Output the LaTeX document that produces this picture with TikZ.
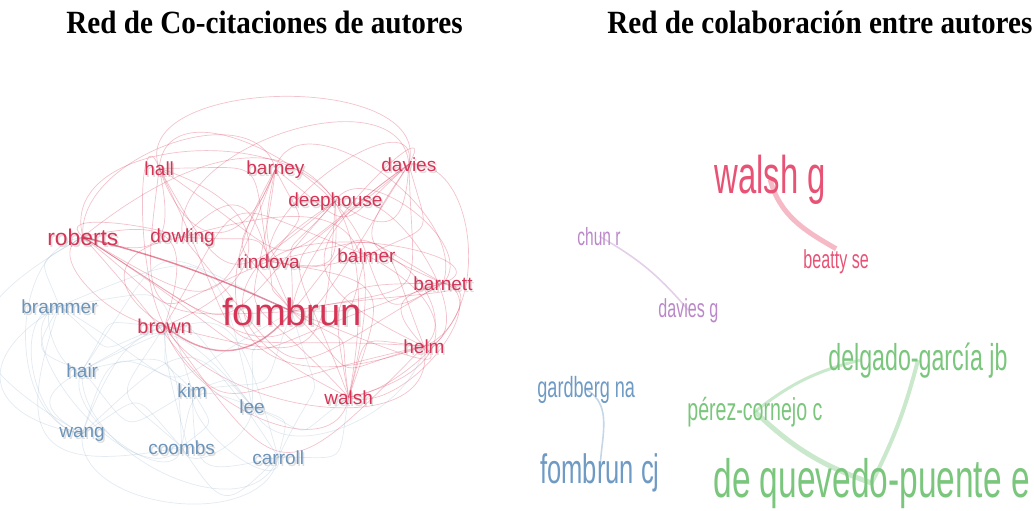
\documentclass[tikz,border=0pt]{standalone}
\usepackage{fontspec}
\setmainfont{Liberation Serif}
\setsansfont{Liberation Sans}
\newfontfamily\narrowsans[FakeStretch=0.62]{Liberation Sans}
\newfontfamily\headserif[FakeStretch=0.9]{Liberation Serif}
\usetikzlibrary{backgrounds}
\definecolor{cocitered}{RGB}{214,52,86}
\definecolor{cociteblue}{RGB}{108,148,186}
\definecolor{colabred}{RGB}{232,82,116}
\definecolor{colabpurple}{RGB}{186,136,200}
\definecolor{colabblue}{RGB}{110,154,196}
\definecolor{colabgreen}{RGB}{122,198,124}
\tikzset{headline/.style={font=\headserif\bfseries\fontsize{16.2}{19}\selectfont,inner sep=0,anchor=base west},
    cocite/.style={inner sep=0,anchor=base west},
    shadowcopy/.style={text=black!70,text opacity=.18},
    redlink/.style={draw=cocitered,line width=.35pt,draw opacity=.3,looseness=2},
    bluelink/.style={draw=cociteblue!70,line width=.35pt,draw opacity=.28,looseness=2},
    colab/.style={inner sep=0,anchor=base west},
    colablink/.style={line width=#1,draw opacity=.4}
}
\newcommand{\cocitelabel}[5]
{
% args: (name and text, x of left end, y of baseline, colour, font size)
    \node [cocite,shadowcopy,font=\sffamily\fontsize{#5}{#5}\selectfont] (#1-s) at (#2+1.5,#3-2.5) {#1};
    \node [cocite,text=#4,font=\sffamily\fontsize{#5}{#5}\selectfont] (#1) at (#2,#3) {#1};
}
\newcommand{\colablabel}[6]
{
% args: (name, x of left end, y of baseline, colour, font size, text)
    \node [colab,text=#4,font=\narrowsans\fontsize{#5}{#5}\selectfont] (#1) at (#2,#3) {#6};
}

\begin{document}
\begin{tikzpicture}[x=0.5pt,y=0.5pt]
\useasboundingbox (0,0) rectangle (1034,-510);

\node [headline] (leftTitle) at (66,-33) {Red de Co-citaciones de autores};
\node [headline] (rightTitle) at (607,-33) {Red de colaboración entre autores};

% co-citation network
\cocitelabel{hall}{144}{-175}{cocitered}{9.5}
\cocitelabel{barney}{246}{-174}{cocitered}{9.5}
\cocitelabel{davies}{381}{-171}{cocitered}{9.5}
\cocitelabel{deephouse}{288}{-206}{cocitered}{9.5}
\cocitelabel{roberts}{47}{-245}{cocitered}{11.4}
\cocitelabel{dowling}{150}{-242}{cocitered}{9.5}
\cocitelabel{rindova}{237}{-268}{cocitered}{9.5}
\cocitelabel{balmer}{337}{-262}{cocitered}{9.5}
\cocitelabel{barnett}{413}{-290}{cocitered}{9.5}
\cocitelabel{fombrun}{222}{-325}{cocitered}{19}
\cocitelabel{brown}{137}{-333}{cocitered}{10}
\cocitelabel{helm}{403}{-353}{cocitered}{9.5}
\cocitelabel{walsh}{324}{-404}{cocitered}{9.5}
\cocitelabel{brammer}{21}{-313}{cociteblue}{9.5}
\cocitelabel{hair}{66}{-377}{cociteblue}{9.5}
\cocitelabel{kim}{177}{-397}{cociteblue}{9.5}
\cocitelabel{lee}{239}{-413}{cociteblue}{9.5}
\cocitelabel{wang}{59}{-437}{cociteblue}{9.5}
\cocitelabel{coombs}{148}{-454}{cociteblue}{9.5}
\cocitelabel{carroll}{252}{-464}{cociteblue}{9.5}

% collaboration network
\colablabel{walshg}{714}{-193}{colabred}{26.5}{walsh g}
\colablabel{beattyse}{803}{-268}{colabred}{13}{beatty se}
\colablabel{chunr}{577}{-245}{colabpurple}{12.5}{chun r}
\colablabel{daviesg}{658}{-317}{colabpurple}{13}{davies g}
\colablabel{gardbergna}{537}{-397}{colabblue}{14.6}{gardberg na}
\colablabel{fombruncj}{540}{-483}{colabblue}{20.6}{fombrun cj}
\colablabel{delgado}{828}{-370}{colabgreen}{18.7}{delgado-garcía jb}
\colablabel{perez}{687}{-420}{colabgreen}{15.8}{pérez-cornejo c}
\colablabel{quevedo}{713}{-497}{colabgreen}{27}{de quevedo-puente e}

\begin{scope}[on background layer]
\foreach \a/\b/\bend in {fombrun/hall/50,fombrun/barney/30,fombrun/davies/-40,
    fombrun/deephouse/20,fombrun/dowling/-30,fombrun/rindova/15,fombrun/balmer/-35,
    fombrun/barnett/40,fombrun/helm/-30,fombrun/walsh/25,roberts/hall/-60,
    roberts/barney/-50,roberts/davies/-45,roberts/deephouse/-40,roberts/brown/60,
    roberts/walsh/70,roberts/rindova/-30,hall/davies/-35,hall/deephouse/-50,
    hall/rindova/40,hall/brown/70,barney/davies/-40,barney/rindova/30,
    barney/balmer/-60,barney/helm/-70,davies/barnett/-50,davies/deephouse/60,
    davies/balmer/40,deephouse/rindova/50,deephouse/walsh/-60,deephouse/brown/50,
    dowling/barnett/-40,dowling/rindova/60,dowling/walsh/60,balmer/barnett/-50,
    balmer/brown/-40,balmer/walsh/70,barnett/helm/-60,barnett/walsh/-50,
    helm/walsh/-40,helm/brown/50,rindova/helm/40,rindova/walsh/50,
    dowling/brown/-70,hall/barney/-70,davies/helm/-60,roberts/helm/-30,
    davies/walsh/-35,barnett/roberts/25,hall/helm/-30,barney/walsh/-25}
    \draw [redlink] (\a.center) to[bend left=\bend] (\b.center);

% outer loops
\foreach \a/\b/\o/\i in {hall/davies/110/75,roberts/barney/95/105,barney/barnett/75/70,
    dowling/davies/100/95,roberts/deephouse/105/125,rindova/davies/95/80,
    hall/balmer/85/105,fombrun/davies/85/60,deephouse/barnett/60/45,brown/hall/120/110,
    davies/helm/5/20,barnett/walsh/-5/5,balmer/helm/15/35,fombrun/barnett/15/-10,
    deephouse/helm/25/5,rindova/barnett/40/20,roberts/brown/200/185,
    dowling/roberts/160/140,walsh/brown/-100/-75,helm/brown/-80/-60,
    fombrun/helm/-20/-45,walsh/barnett/-20/-15}
    \draw [redlink,looseness=1] (\a.center) to[out=\o,in=\i] (\b.center);
\draw [redlink,line width=.7pt,draw opacity=.6,looseness=1] (roberts.center) to[bend left=5] (fombrun.center);
\draw [redlink,line width=.7pt,draw opacity=.5,looseness=1.2] (brown.center) to[bend right=45] (fombrun.center);

\foreach \a/\b/\bend in {brammer/hair/-50,brammer/wang/-70,brammer/kim/40,
    brammer/lee/50,brammer/coombs/-60,hair/kim/-40,hair/wang/-60,hair/coombs/50,
    hair/lee/40,hair/carroll/50,kim/lee/30,kim/wang/-50,kim/coombs/40,
    kim/carroll/-50,lee/coombs/-50,lee/carroll/40,lee/wang/-60,wang/coombs/40,
    wang/carroll/50,coombs/carroll/-50,brammer/fombrun/-30,brammer/roberts/40,
    hair/fombrun/40,hair/brown/30,kim/fombrun/-30,kim/brown/20,lee/fombrun/20,
    lee/walsh/-30,carroll/walsh/-40,carroll/fombrun/-20,coombs/brown/40,
    wang/roberts/60,brammer/brown/-30}
    \draw [bluelink] (\a.center) to[bend left=\bend] (\b.center);
\foreach \a/\b/\o/\i in {brammer/wang/185/175,hair/coombs/-120/-100,wang/carroll/-95/-100,
    kim/carroll/-100/-80,brammer/coombs/200/-130,lee/coombs/-85/-80,carroll/hair/-110/-95,
    coombs/brown/-60/-95,brammer/hair/160/190,roberts/wang/190/170,lee/helm/-70/-100}
    \draw [bluelink,looseness=1] (\a.center) to[out=\o,in=\i] (\b.center);

\draw [colablink=2.5pt,draw=colabred] (walshg.center) to[out=-75,in=150] (beattyse.north);
\draw [colablink=.8pt,draw=colabpurple] (chunr.center) to[bend left=10] (daviesg.center);
\draw [colablink=.8pt,draw=colabblue] (gardbergna.center) to[out=-30,in=90] (fombruncj.center);
\draw [colablink=1.5pt,draw=colabgreen] (perez.center) to[bend left=12] ([xshift=16pt]delgado.west);
\draw [colablink=2.5pt,draw=colabgreen] (perez.center) to[bend right=12] (quevedo.center);
\draw [colablink=2pt,draw=colabgreen] (delgado.center) to[bend left=6] (quevedo.center);
\end{scope}

\end{tikzpicture}
\end{document}
